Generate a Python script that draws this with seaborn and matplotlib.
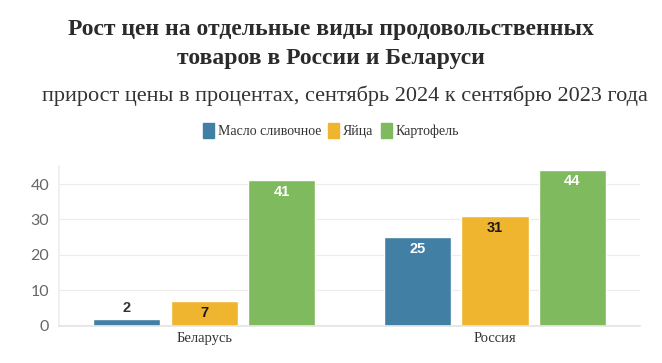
import pandas as pd
import matplotlib.pyplot as plt
import matplotlib.patches as mpatches
import seaborn as sns

# Data
countries = ["Беларусь", "Россия"]
products = ["Масло сливочное", "Яйца", "Картофель"]
butter = [2, 25]
eggs = [7, 31]
potato = [41, 44]

colors = {"Масло сливочное": "#417fa5", "Яйца": "#efb52e", "Картофель": "#7fba5e"}
label_colors = {"Масло сливочное": "white", "Яйца": "#1a1a1a", "Картофель": "white"}

df = pd.DataFrame({
    "country": countries * 3,
    "product": [p for p in products for _ in countries],
    "value": butter + eggs + potato,
})

sns.set_theme(style="white")
fig = plt.figure(figsize=(6.62, 3.63), dpi=100)
ax = fig.add_axes([0.089, 0.102, 0.878, 0.44])

sns.barplot(data=df, x="country", y="value", hue="product", hue_order=products,
            palette=colors, width=0.8, gap=0.13, saturation=1, ax=ax, legend=False)

ax.set_ylim(0, 45)
ax.set_xlim(-0.5, 1.5)
ax.set_yticks([0, 10, 20, 30, 40])
ax.grid(axis="y", color="#ececec", linewidth=0.8)
ax.set_axisbelow(True)
ax.set_xlabel("")
ax.set_ylabel("")
for s in ["top", "right"]:
    ax.spines[s].set_visible(False)
ax.spines["left"].set_color("#eeeeee")
ax.spines["bottom"].set_color("#e4e4e4")
ax.tick_params(axis="y", labelsize=11.5, labelcolor="#666666", length=0, pad=7)
ax.tick_params(axis="x", length=0, pad=4)
for t in ax.get_yticklabels():
    t.set_family("Lato")
for t in ax.get_xticklabels():
    t.set_family("Liberation Serif")
    t.set_fontsize(10.5)
    t.set_color("#333333")

# value labels
for cont, prod in zip(ax.containers, products):
    for bar in cont:
        h = bar.get_height()
        x = bar.get_x() + bar.get_width() / 2
        if h < 5:
            ax.text(x, h + 1.2, f"{h:.0f}", ha="center", va="bottom",
                    fontsize=10.5, fontweight="bold", color="#333333", family="Liberation Sans")
        else:
            ax.text(x, h - 1.3, f"{h:.0f}", ha="center", va="top",
                    fontsize=10.5, fontweight="bold", color=label_colors[prod], family="Liberation Sans")

fig.text(0.5, 0.878, "Рост цен на отдельные виды продовольственных\nтоваров в России и Беларуси",
         ha="center", va="center", fontsize=17, fontweight="bold", color="#2b2b2b",
         family="Liberation Serif", linespacing=1.5)
fig.text(0.521, 0.737, "прирост цены в процентах, сентябрь 2024 к сентябрю 2023 года",
         ha="center", va="center", fontsize=16, color="#333333", family="Liberation Serif")

handles = [mpatches.Patch(color=colors[p], label=p) for p in products]
leg = fig.legend(handles=handles, loc="center", bbox_to_anchor=(0.5, 0.64), ncol=3,
                 frameon=False, handlelength=0.8, handleheight=1.2, handletextpad=0.3,
                 columnspacing=0.5, prop={"family": "Liberation Serif", "size": 10})
for t in leg.get_texts():
    t.set_color("#333333")

fig.savefig("out.png", dpi=100)
